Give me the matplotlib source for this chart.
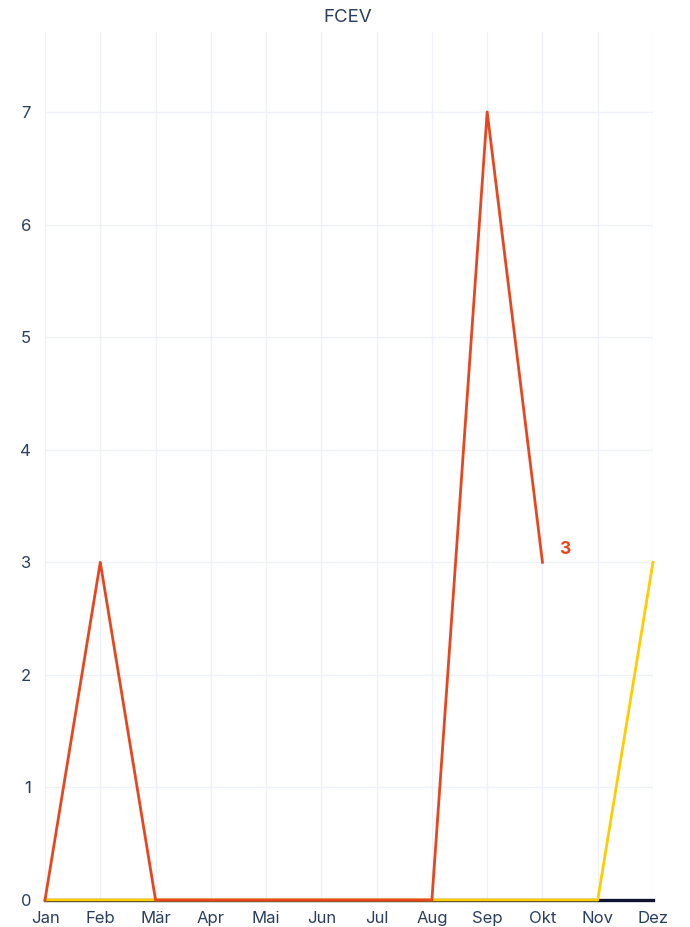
import matplotlib
matplotlib.use("Agg")
import matplotlib.pyplot as plt

months = ["Jan", "Feb", "Mär", "Apr", "Mai", "Jun", "Jul", "Aug", "Sep", "Okt", "Nov", "Dez"]
red_vals = [0, 3, 0, 0, 0, 0, 0, 0, 7, 3]
yellow_vals = [0, 0, 0, 0, 0, 0, 0, 0, 0, 0, 0, 3]
navy_vals = [0, 0, 0, 0, 0, 0, 0, 0, 0, 0, 0, 0]
y_ticks = [0, 1, 2, 3, 4, 5, 6, 7]

plt.rcParams["font.family"] = ["Inter", "DejaVu Sans"]
text_col = "#2a3f5f"
grid_col = "#eef1f8"

fig = plt.figure(figsize=(6.9, 9.27), dpi=100)
ax = fig.add_axes([45/690, 27/927, 608/690, 868/927])

x_all = list(range(len(months)))
ax.plot(x_all, navy_vals, color="#0d1330", lw=2.4, clip_on=False, zorder=2)
ax.plot(x_all, yellow_vals, color="#ffcc00", lw=2.0, clip_on=False, zorder=3)
ax.plot(x_all[:len(red_vals)], red_vals, color="#e8461e", lw=2.0, clip_on=False, zorder=4)

ax.annotate(str(red_vals[-1]), (len(red_vals) - 1, red_vals[-1]), xytext=(12, 9),
            textcoords="offset points", color="#e8461e", fontsize=12.5, fontweight="bold",
            ha="left", va="center")

ax.set_xlim(0, len(months) - 1)
ax.set_ylim(0, 7.71)
ax.set_xticks(x_all)
ax.set_xticklabels(months)
ax.set_yticks(y_ticks)
ax.tick_params(axis="both", length=0, colors=text_col, labelsize=12)
ax.tick_params(axis="x", pad=8)
ax.tick_params(axis="y", pad=10)
ax.grid(True, color=grid_col, lw=1.0)
ax.set_axisbelow(True)
for s in ax.spines.values():
    s.set_visible(False)

fig.text(348/690, 1 - 18/927, "FCEV", ha="center", va="center", fontsize=13.5, color=text_col)

fig.savefig("out.png", dpi=100)
